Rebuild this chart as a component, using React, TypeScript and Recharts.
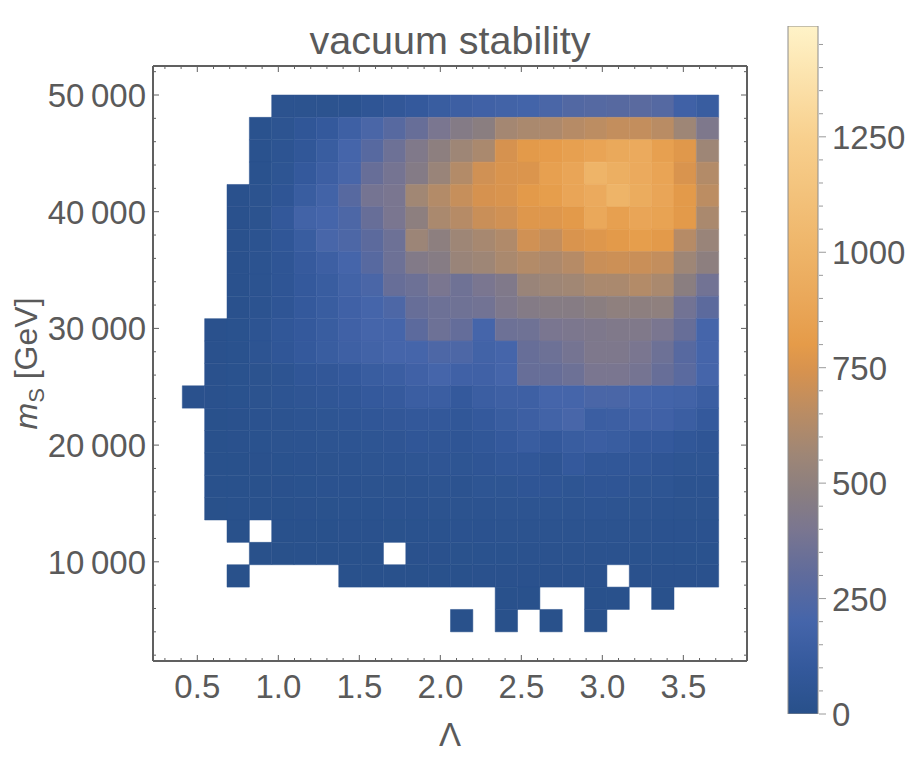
import React from 'react';
import { ScatterChart, Scatter, XAxis, YAxis, ReferenceArea, Label, ComposedChart, Bar } from 'recharts';

// ---- data ----
// Λ bins (24) and m_S bins (24), top row = highest m_S
const lambdaStart = 0.4074;
const lambdaBinWidth = 0.13795;
const massTop = 50000;
const massBinHeight = 1916.67;

// stability values per row (top row first), null = no point
const N = null;
const r00 = [N, N, N, N, 30, 30, 30, 35, 60, 80, 100, 130, 150, 170, 180, 190, 220, 250, 260, 270, 280, 260, 170, 130];
const r01 = [N, N, N, 20, 40, 70, 100, 160, 220, 270, 330, 400, 450, 480, 580, 600, 610, 640, 660, 680, 680, 650, 560, 420];
const r02 = [N, N, N, 20, 45, 75, 130, 200, 270, 350, 430, 490, 560, 600, 740, 790, 810, 840, 870, 910, 920, 840, 780, 560];
const r03 = [N, N, N, 20, 50, 100, 150, 210, 330, 380, 450, 540, 630, 720, 750, 760, 840, 880, 1000, 960, 920, 870, 750, 630];
const r04 = [N, N, 15, 30, 60, 130, 180, 270, 380, 400, 570, 630, 690, 740, 750, 790, 820, 880, 920, 1000, 930, 880, 790, 660];
const r05 = [N, N, 15, 30, 90, 180, 200, 230, 330, 400, 490, 600, 640, 700, 720, 770, 770, 790, 900, 840, 880, 860, 790, 600];
const r06 = [N, N, 15, 35, 70, 130, 210, 230, 290, 350, 550, 490, 560, 590, 620, 720, 680, 750, 770, 790, 820, 790, 640, 540];
const r07 = [N, N, 15, 35, 60, 110, 150, 200, 270, 350, 440, 460, 540, 560, 600, 630, 610, 640, 700, 710, 700, 680, 560, 490];
const r08 = [N, N, 15, 35, 60, 100, 130, 180, 220, 330, 350, 400, 360, 400, 430, 540, 560, 570, 600, 600, 630, 600, 480, 370];
const r09 = [N, N, 15, 35, 60, 100, 130, 170, 200, 230, 330, 350, 360, 370, 420, 450, 460, 460, 480, 500, 490, 500, 370, 290];
const r10 = [N, 15, 20, 45, 75, 100, 130, 170, 200, 200, 290, 350, 320, 200, 350, 360, 400, 410, 420, 430, 430, 400, 330, 200];
const r11 = [N, 15, 20, 45, 70, 100, 130, 160, 180, 200, 200, 230, 230, 180, 200, 330, 350, 380, 420, 420, 400, 350, 270, 200];
const r12 = [N, 15, 20, 30, 45, 70, 80, 100, 130, 140, 170, 200, 170, 170, 200, 330, 330, 350, 400, 400, 380, 330, 280, 200];
const r13 = [15, 15, 20, 30, 45, 55, 65, 75, 100, 110, 140, 140, 100, 140, 160, 160, 200, 200, 220, 220, 200, 190, 180, 140];
const r14 = [N, 12, 15, 25, 35, 45, 50, 60, 70, 80, 90, 90, 75, 100, 130, 150, 180, 210, 140, 150, 170, 170, 140, 100];
const r15 = [N, 10, 15, 20, 30, 35, 40, 45, 50, 55, 70, 65, 60, 75, 100, 130, 100, 130, 140, 130, 100, 100, 75, 60];
const r16 = [N, 10, 12, 15, 20, 25, 30, 35, 40, 45, 50, 55, 50, 60, 75, 75, 60, 100, 75, 75, 75, 60, 50, 50];
const r17 = [N, 10, 10, 12, 15, 20, 25, 25, 30, 30, 35, 40, 35, 50, 50, 60, 60, 50, 60, 60, 50, 50, 35, 35];
const r18 = [N, 8, 10, 10, 12, 15, 18, 20, 20, 25, 25, 30, 30, 35, 40, 40, 40, 40, 45, 40, 40, 35, 30, 30];
const r19 = [N, N, 8, N, 10, 12, 12, 15, 15, 18, 20, 20, 25, 25, 30, 30, 30, 30, 30, 30, 30, 25, 25, 25];
const r20 = [N, N, N, 8, 8, 10, 10, 12, 12, N, 15, 15, 18, 20, 20, 22, 22, 22, 22, 22, 20, 20, 20, 20];
const r21 = [N, N, 8, N, N, N, N, 10, 10, 10, 12, 12, 12, 15, 15, 15, 15, 15, 15, N, 15, 15, 15, 15];
const r22 = [N, N, N, N, N, N, N, N, N, N, N, N, N, N, 10, 10, N, N, 10, 10, N, 10, N, N];
const r23 = [N, N, N, N, N, N, N, N, N, N, N, N, 8, N, 8, N, 8, N, 8, N, N, N, N, N];
const stabilityRows = [r00, r01, r02, r03, r04, r05, r06, r07, r08, r09, r10, r11, r12, r13, r14, r15, r16, r17, r18, r19, r20, r21, r22, r23];

// tick values
const xTicks = [0.3, 0.4, 0.5, 0.6, 0.7, 0.8, 0.9, 1.0, 1.1, 1.2, 1.3, 1.4, 1.5, 1.6, 1.7, 1.8, 1.9, 2.0, 2.1, 2.2, 2.3, 2.4, 2.5, 2.6, 2.7, 2.8, 2.9, 3.0, 3.1, 3.2, 3.3, 3.4, 3.5, 3.6, 3.7, 3.8];
const yTicks = [2000, 4000, 6000, 8000, 10000, 12000, 14000, 16000, 18000, 20000, 22000, 24000, 26000, 28000, 30000, 32000, 34000, 36000, 38000, 40000, 42000, 44000, 46000, 48000, 50000, 52000];
const cbTicks = [0, 50, 100, 150, 200, 250, 300, 350, 400, 450, 500, 550, 600, 650, 700, 750, 800, 850, 900, 950, 1000, 1050, 1100, 1150, 1200, 1250, 1300, 1350, 1400, 1450];
const cbMax = 1490;

// colour scale stops
const stopValues = [0, 100, 200, 300, 400, 480, 560, 650, 740, 800, 900, 1000, 1250, 1490];
const stopColors = ['#28508a', '#34599c', '#4565aa', '#5f6b9c', '#7a7690', '#8a7e80', '#9e8676', '#b98c64', '#d6924f', '#e59b49', '#eaa85a', '#eeb468', '#f8d08e', '#fff3c8'];

const FONT = '"Liberation Sans", Arial, Helvetica, sans-serif';
const TEXT = '#5a5a5a';
const FRAME = '#606060';

function hexToRgb(h: string) {
  return [parseInt(h.slice(1, 3), 16), parseInt(h.slice(3, 5), 16), parseInt(h.slice(5, 7), 16)];
}
function colorFor(v: number) {
  if (v <= stopValues[0]) return stopColors[0];
  for (let i = 1; i < stopValues.length; i++) {
    if (v <= stopValues[i]) {
      const t = (v - stopValues[i - 1]) / (stopValues[i] - stopValues[i - 1]);
      const a = hexToRgb(stopColors[i - 1]);
      const b = hexToRgb(stopColors[i]);
      const c = a.map((x, k) => Math.round(x + (b[k] - x) * t));
      return `rgb(${c[0]},${c[1]},${c[2]})`;
    }
  }
  return stopColors[stopColors.length - 1];
}

type Cell = { x1: number; x2: number; y1: number; y2: number; cx: number; cy: number; value: number; color: string };
const cells: Cell[] = [];
stabilityRows.forEach((row, r) => {
  row.forEach((v, c) => {
    if (v === null) return;
    const x1 = lambdaStart + c * lambdaBinWidth;
    const y2 = massTop - r * massBinHeight;
    const y1 = y2 - massBinHeight;
    cells.push({ x1, x2: x1 + lambdaBinWidth, y1, y2, cx: x1 + lambdaBinWidth / 2, cy: (y1 + y2) / 2, value: v, color: colorFor(v) });
  });
});

const isMult = (v: number, step: number) => Math.abs(v / step - Math.round(v / step)) < 1e-6;

const BottomTick = (props: any) => {
  const { x, y, payload } = props;
  const v = payload.value as number;
  const major = isMult(v, 0.5);
  return (
    <g>
      <line x1={x} x2={x} y1={y} y2={y - (major ? 6 : 3)} stroke={FRAME} strokeWidth={1} />
      {major && (
        <text x={x} y={y + 37} textAnchor="middle" fontSize={33} fill={TEXT} fontFamily={FONT}>
          {v.toFixed(1)}
        </text>
      )}
    </g>
  );
};
const TopTick = (props: any) => {
  const { x, y, payload } = props;
  const major = isMult(payload.value, 0.5);
  return <line x1={x} x2={x} y1={y} y2={y + (major ? 6 : 3)} stroke={FRAME} strokeWidth={1} />;
};
const LeftTick = (props: any) => {
  const { x, y, payload } = props;
  const v = payload.value as number;
  const major = isMult(v, 10000);
  return (
    <g>
      <line x1={x} x2={x + (major ? 6 : 3)} y1={y} y2={y} stroke={FRAME} strokeWidth={1} />
      {major && (
        <text x={x - 7} y={y + 12} textAnchor="end" fontSize={33} fill={TEXT} fontFamily={FONT}>
          {`${Math.round(v / 1000)}\u2009000`}
        </text>
      )}
    </g>
  );
};
const RightTick = (props: any) => {
  const { x, y, payload } = props;
  const major = isMult(payload.value, 10000);
  return <line x1={x} x2={x - (major ? 6 : 3)} y1={y} y2={y} stroke={FRAME} strokeWidth={1} />;
};
const CbTick = (props: any) => {
  const { x, y, payload } = props;
  const v = payload.value as number;
  const major = isMult(v, 250);
  return (
    <g>
      <line x1={x + 1} x2={x + (major ? 8 : 5)} y1={y} y2={y} stroke="#9a9a9a" strokeWidth={1} />
      {major && (
        <text x={x + 14} y={y + 12} textAnchor="start" fontSize={33} fill={TEXT} fontFamily={FONT}>
          {String(v)}
        </text>
      )}
    </g>
  );
};

const TitleContent = (props: any) => {
  const vb = props.viewBox || {};
  return (
    <text x={vb.x + vb.width / 2} y={vb.y + vb.height - 12} textAnchor="middle" fontSize={39.5} fill={TEXT} fontFamily={FONT}>
      vacuum stability
    </text>
  );
};
const XTitleContent = (props: any) => {
  const vb = props.viewBox || {};
  return (
    <text x={vb.x + vb.width / 2} y={vb.y + 85} textAnchor="middle" fontSize={33} fill={TEXT} fontFamily={FONT}>
      Λ
    </text>
  );
};
const YTitleContent = (props: any) => {
  const vb = props.viewBox || {};
  const cx = vb.x + 18;
  const cy = vb.y + vb.height / 2;
  return (
    <text x={cx} y={cy + 11} transform={`rotate(-90 ${cx} ${cy})`} textAnchor="middle" fontSize={32} fill={TEXT} fontFamily={FONT}>
      <tspan fontStyle="italic">m</tspan>
      <tspan fontSize={22} dy={7}>S</tspan>
      <tspan dy={-7}> [GeV]</tspan>
    </text>
  );
};

const barData = [{ name: 'scale', top: cbMax }];

export default function App() {
  return (
    <div style={{ position: 'relative', width: 909, height: 756 }}>
      <div style={{ position: 'absolute', left: 0, top: 0 }}>
        <ScatterChart width={770} height={756} margin={{ top: 57, right: 30, bottom: 0, left: 0 }}>
          {cells.map((c, i) => (
            <ReferenceArea key={i} xAxisId="x" yAxisId="y" x1={c.x1} x2={c.x2} y1={c.y1} y2={c.y2}
              fill={c.color} fillOpacity={1} stroke={c.color} strokeWidth={0.5} strokeOpacity={1} ifOverflow="visible" />
          ))}
          <XAxis xAxisId="x" type="number" dataKey="cx" domain={[0.2265, 3.893]} ticks={xTicks} interval={0}
            allowDataOverflow height={103} tickSize={0} tickMargin={0} tick={<BottomTick />} tickLine={false}
            axisLine={{ stroke: FRAME, strokeWidth: 2 }}>
            <Label content={<XTitleContent />} />
          </XAxis>
          <XAxis xAxisId="xt" orientation="top" type="number" dataKey="cx" domain={[0.2265, 3.893]} ticks={xTicks} interval={0}
            allowDataOverflow height={1} tickSize={0} tickMargin={0} tick={<TopTick />} tickLine={false}
            axisLine={{ stroke: FRAME, strokeWidth: 2 }}>
            <Label content={<TitleContent />} />
          </XAxis>
          <YAxis yAxisId="y" type="number" dataKey="cy" domain={[1500, 52485]} ticks={yTicks} interval={0}
            allowDataOverflow width={145} tickSize={0} tickMargin={0} tick={<LeftTick />} tickLine={false}
            axisLine={{ stroke: FRAME, strokeWidth: 2 }}>
            <Label content={<YTitleContent />} />
          </YAxis>
          <YAxis yAxisId="yr" orientation="right" type="number" dataKey="cy" domain={[1500, 52485]} ticks={yTicks} interval={0}
            allowDataOverflow width={1} tickSize={0} tickMargin={0} tick={<RightTick />} tickLine={false}
            axisLine={{ stroke: FRAME, strokeWidth: 2 }} />
          <Scatter xAxisId="x" yAxisId="y" data={cells} isAnimationActive={false} shape={() => <g />} />
          <Scatter xAxisId="xt" yAxisId="yr" data={cells} isAnimationActive={false} shape={() => <g />} />
        </ScatterChart>
      </div>
      <div style={{ position: 'absolute', left: 770, top: 0 }}>
        <ComposedChart width={139} height={756} data={barData} margin={{ top: 18, right: 0, bottom: 50, left: 10 }}
          barCategoryGap={0} barGap={0}>
          <defs>
            <linearGradient id="cbGrad" x1="0" y1="1" x2="0" y2="0">
              {stopValues.map((v, i) => (
                <stop key={i} offset={v / cbMax} stopColor={stopColors[i]} />
              ))}
            </linearGradient>
          </defs>
          <XAxis dataKey="name" hide />
          <YAxis orientation="right" type="number" domain={[0, cbMax]} ticks={cbTicks} interval={0} width={99}
            tickSize={0} tickMargin={0} tick={<CbTick />} tickLine={false} axisLine={false} allowDataOverflow />
          <Bar dataKey="top" fill="url(#cbGrad)" stroke="#8c8c8c" strokeWidth={1} isAnimationActive={false} />
        </ComposedChart>
      </div>
    </div>
  );
}
